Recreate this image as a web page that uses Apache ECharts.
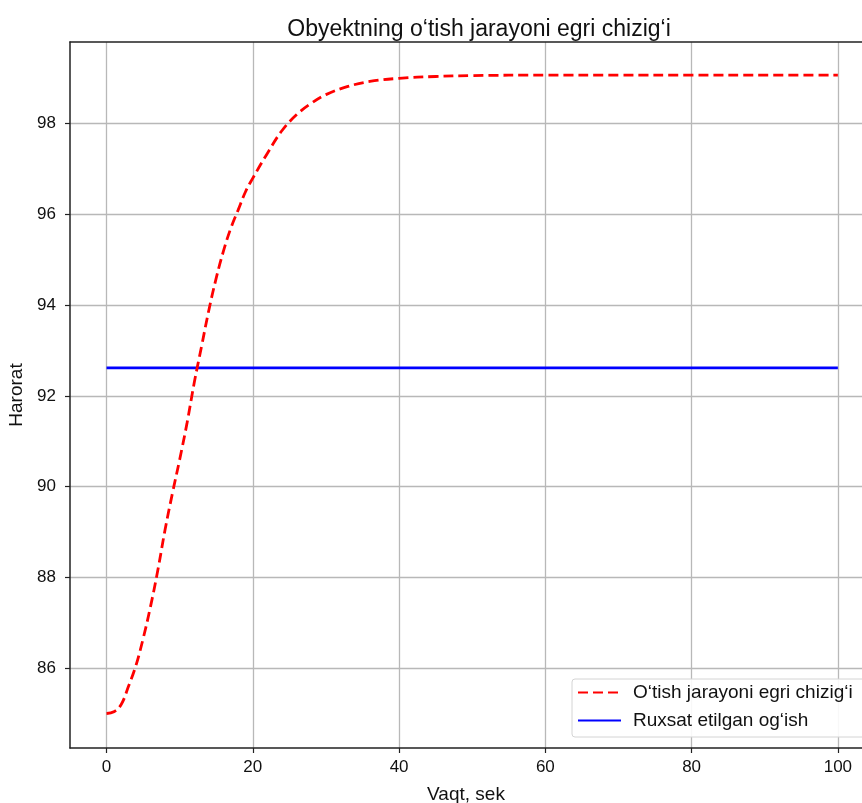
<!DOCTYPE html>
<html>
<head>
<meta charset="utf-8">
<script src="https://cdn.jsdelivr.net/npm/echarts@6/dist/echarts.min.js"></script>
<style>html,body{margin:0;padding:0;background:#fff;}#c{width:862px;height:803px;}</style>
</head>
<body>
<div id="c"></div>
<script>
const timeSec = [0,1,2,3,4,5,6,7,8,9,10,11,12,13,14,15,16,17,18,19,20,22,24,26,28,30,33,36,40,45,50,60,70,80,90,100];
const responseCurve = [85.0,85.04,85.2,85.6,86.05,86.65,87.35,88.15,89.05,89.85,90.6,91.4,92.3,93.1,93.9,94.6,95.2,95.7,96.1,96.5,96.8,97.35,97.85,98.2,98.45,98.64,98.82,98.93,99.0,99.04,99.06,99.07,99.07,99.07,99.07,99.07];
const allowedX = [0,100];
const allowedY = [92.62,92.62];
const xTicks = [0,20,40,60,80,100];
const yTicks = [86,88,90,92,94,96,98];
const seriesNames = ["O\u2018tish jarayoni egri chizig\u2018i","Ruxsat etilgan og\u2018ish"];
const titleText = "Obyektning o\u2018tish jarayoni egri chizig\u2018i";

const font = "'Liberation Sans', Arial, sans-serif";
const chart = echarts.init(document.getElementById('c'));
chart.setOption({
  animation: false,
  backgroundColor: '#fff',
  title: {text: titleText, left: 474, textAlign: 'center', top: 13,
    textStyle: {fontFamily: font, fontSize: 23, fontWeight: 'normal', color: '#111'}},
  grid: {left: 70, right: 0, top: 42, bottom: 55, show: false, outerBoundsMode: 'none', containLabel: false},
  legend: {
    orient: 'vertical', left: 572, top: 679, itemWidth: 43, itemHeight: 14, itemGap: 7,
    backgroundColor: 'rgba(255,255,255,0.9)', borderColor: '#d4d4d4', borderWidth: 1, borderRadius: 3,
    padding: [3, 40, 6, 5],
    itemStyle: {opacity: 0},
    textStyle: {fontFamily: font, fontSize: 19, lineHeight: 21, color: '#111', padding: [0, 0, 0, 7]},
    data: seriesNames
  },
  xAxis: [{
    type: 'value', min: -5, max: 103.3,
    name: 'Vaqt, sek', nameLocation: 'middle', nameGap: 37,
    nameTextStyle: {fontFamily: font, fontSize: 19, color: '#111'},
    axisLine: {show: true, onZero: false, lineStyle: {color: '#222', width: 1.5}},
    axisTick: {show: true, length: 5, customValues: xTicks, lineStyle: {color: '#222', width: 1.2}},
    axisLabel: {customValues: xTicks, fontFamily: font, fontSize: 17, color: '#111', margin: 11},
    splitLine: {show: true, lineStyle: {color: '#b8b8b8', width: 1.3}}
  }, {
    type: 'value', position: 'top', min: -5, max: 103.3,
    axisLine: {show: true, onZero: false, lineStyle: {color: '#222', width: 1.5}},
    axisTick: {show: false}, axisLabel: {show: false}, splitLine: {show: false}
  }],
  yAxis: {
    type: 'value', min: 84.24, max: 99.8,
    name: 'Harorat', nameLocation: 'middle', nameGap: 44, nameRotate: 90,
    nameTextStyle: {fontFamily: font, fontSize: 19, color: '#111'},
    axisLine: {show: true, onZero: false, lineStyle: {color: '#222', width: 1.5}},
    axisTick: {show: true, length: 5, customValues: yTicks, lineStyle: {color: '#222', width: 1.2}},
    axisLabel: {customValues: yTicks, fontFamily: font, fontSize: 17, color: '#111', margin: 14},
    splitLine: {show: true, lineStyle: {color: '#b8b8b8', width: 1.3}}
  },
  series: [
    {name: seriesNames[0], type: 'line', showSymbol: false, symbol: 'none', smooth: 0.4,
     data: timeSec.map((t, i) => [t, responseCurve[i]]),
     itemStyle: {color: '#ff0000'},
     lineStyle: {color: '#ff0000', width: 2.8, type: [10, 5]}, z: 3},
    {name: seriesNames[1], type: 'line', showSymbol: false, symbol: 'none',
     data: allowedX.map((t, i) => [t, allowedY[i]]),
     itemStyle: {color: '#0000ff'},
     lineStyle: {color: '#0000ff', width: 2.8}, z: 2}
  ]
});
</script>
</body>
</html>
